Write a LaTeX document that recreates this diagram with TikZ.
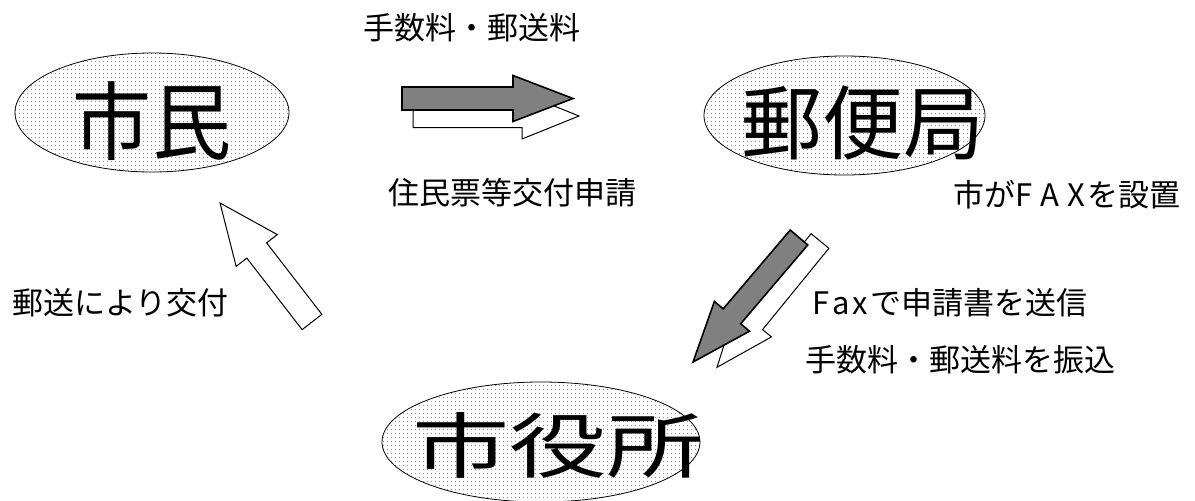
\documentclass[tikz,border=0pt]{standalone}
\usepackage{fontspec}
\setmainfont{Noto Sans CJK JP}
\usetikzlibrary{patterns.meta,shapes.geometric}
\newcommand\blockarrowpath[4]{(0,#2) -- (#1-#4,#2) -- (#1-#4,#3) -- (#1,0) -- (#1-#4,-#3) -- (#1-#4,-#2) -- (0,-#2) -- cycle}
\tikzset{
  place/.style={ellipse, draw=black, line width=0.8pt, inner sep=0pt,
    pattern={Dots[distance=4pt,radius=0.55pt]}, pattern color=black!75},
  bigtext/.style={inner sep=0pt},
  lbl/.style={inner sep=0pt, anchor=west, font=\fontsize{31}{31}\selectfont},
  grayarrow/.style={draw=black, fill=black!50, line width=1.6pt, line join=miter},
  whitearrow/.style={draw=black, fill=white, line width=1pt, line join=miter},
}
\begin{document}
\begin{tikzpicture}[x=1pt,y=-1pt]
\useasboundingbox (0,0) rectangle (1195,501);
% places
\node[place, minimum width=274pt, minimum height=119pt] (shimin) at (152,112.5) {};
\node[place, minimum width=281pt, minimum height=119pt] (post) at (844.5,115.5) {};
\node[place, minimum width=318pt, minimum height=120pt] (city) at (541,442) {};
\node[bigtext, font=\fontsize{85}{85}\selectfont, xscale=0.93] (shimin-t) at (152,121) {市民};
\node[bigtext, font=\fontsize{81}{81}\selectfont, xscale=1.0] (post-t) at (863,123) {郵便局};
\node[bigtext, font=\fontsize{71}{71}\selectfont, xscale=1.37] (city-t) at (558,445) {市役所};
% arrows: shimin -> post
\draw[whitearrow, shift={(413,116)}] \blockarrowpath{166}{11.5}{23}{57};
\draw[grayarrow, shift={(402,98.5)}] \blockarrowpath{171}{11.5}{23}{60};
% post -> city
\draw[whitearrow, shift={(820,241)}, rotate=-129.2] \blockarrowpath{163}{11.5}{23}{58};
\draw[grayarrow, shift={(799,237.5)}, rotate=-130.4] \blockarrowpath{163.5}{11.5}{23}{60};
% city -> shimin
\draw[whitearrow, shift={(312,322)}, rotate=127.7] \blockarrowpath{150.4}{12.5}{26}{60};
% labels
\node[lbl] (l1) at (363,28) {手数料・郵送料};
\node[lbl] (l2) at (388,193) {住民票等交付申請};
\node[lbl] (l3) at (953,195) {市がF\kern8pt A\kern8pt X\kern3pt を設置};
\node[lbl] (l4) at (812,303) {F\kern3pt a\kern3pt x\kern2pt で申請書を送信};
\node[lbl] (l5) at (805,360) {手数料・郵送料を振込};
\node[lbl] (l6) at (12,303) {郵送により交付};
\end{tikzpicture}
\end{document}
